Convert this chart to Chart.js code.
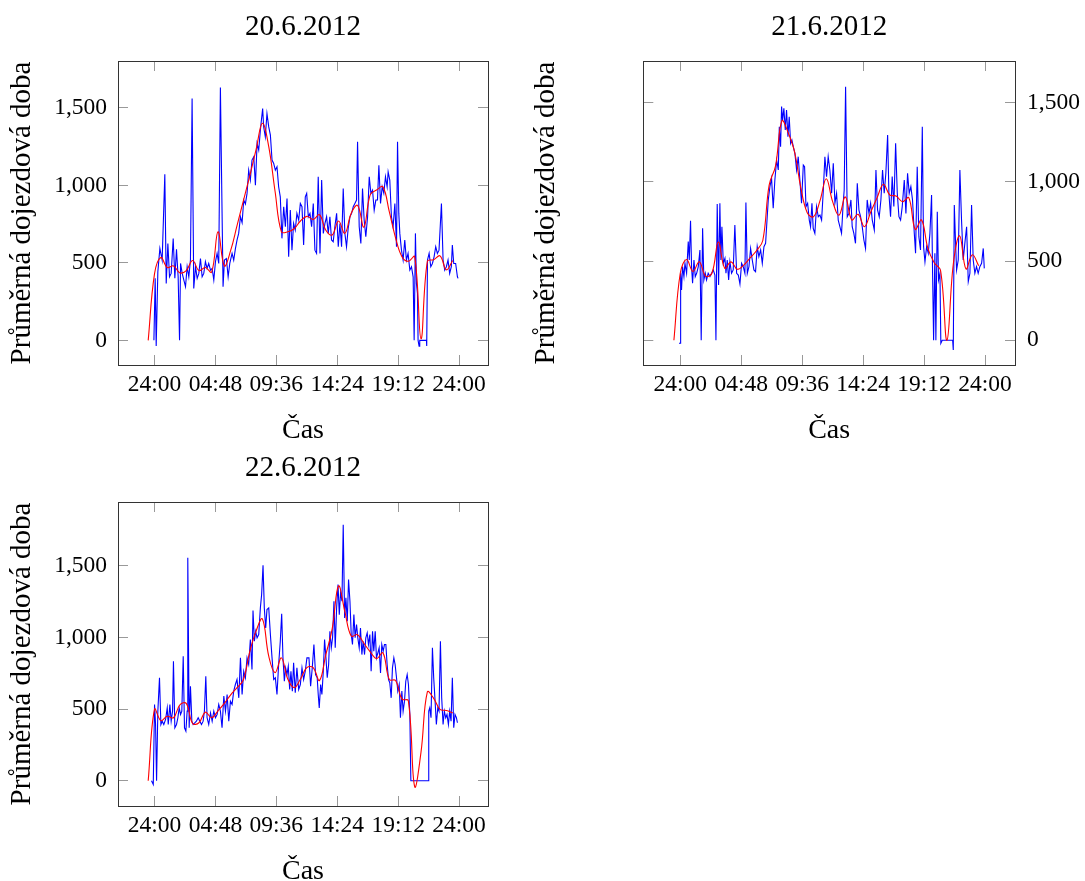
<!DOCTYPE html>
<html>
<head>
<meta charset="utf-8">
<script src="https://cdn.jsdelivr.net/npm/chart.js@4.4.0/dist/chart.umd.min.js"></script>
<style>
body { margin: 0; background: #fff; overflow: hidden; width: 1085px; height: 881px; position: relative; }
canvas { position: absolute; }
</style>
</head>
<body>
<canvas id="day1" width="540" height="450" style="left:0;top:0"></canvas>
<canvas id="day2" width="565" height="450" style="left:520px;top:0"></canvas>
<canvas id="day3" width="540" height="450" style="left:0;top:441px"></canvas>
<script>
const xTickValues = [0, 4.8, 9.6, 14.4, 19.2, 24];
const xTickLabels = ['24:00', '04:48', '09:36', '14:24', '19:12', '24:00'];
const yTickValues = [0, 500, 1000, 1500];

// smoothed (red) values every 0.5 h starting at -0.5 h
const redStart = -0.5;
const redStep = 0.5;

// 20.6.2012 - raw: time in hours, value
const t20 = [-0.05, 0.05, 0.13, 0.26, 0.42, 0.6, 0.81, 0.92, 1.05, 1.18,
    1.31, 1.47, 1.6, 1.73, 1.86, 1.97, 2.05, 2.18, 2.31, 2.44,
    2.57, 2.7, 2.83, 2.96, 3.09, 3.23, 3.36, 3.49, 3.62, 3.75,
    3.88, 4.01, 4.14, 4.27, 4.41, 4.54, 4.67, 4.8, 4.93, 5.06,
    5.19, 5.4, 5.51, 5.66, 5.8, 5.93, 6.11, 6.24, 6.37, 6.5,
    6.63, 6.77, 6.9, 7.03, 7.16, 7.29, 7.42, 7.55, 7.68, 7.82,
    7.95, 8.08, 8.21, 8.34, 8.52, 8.6, 8.73, 8.86, 9.0, 9.13,
    9.26, 9.39, 9.52, 9.65, 9.78, 9.91, 10.04, 10.18, 10.31, 10.44,
    10.57, 10.7, 10.83, 10.96, 11.09, 11.22, 11.36, 11.49, 11.62, 11.75,
    11.88, 11.99, 12.12, 12.25, 12.38, 12.51, 12.64, 12.77, 12.9, 13.04,
    13.17, 13.3, 13.43, 13.56, 13.69, 13.82, 13.95, 14.08, 14.21, 14.35,
    14.48, 14.61, 14.74, 14.87, 15.0, 15.13, 15.26, 15.4, 15.53, 15.66,
    15.79, 15.92, 16.0, 16.13, 16.26, 16.39, 16.52, 16.65, 16.79, 16.92,
    17.05, 17.18, 17.31, 17.44, 17.57, 17.68, 17.81, 17.94, 18.07, 18.2,
    18.33, 18.41, 18.54, 18.67, 18.8, 18.94, 19.07, 19.15, 19.25, 19.33,
    19.46, 19.59, 19.72, 19.85, 19.98, 20.12, 20.25, 20.38, 20.46, 20.56,
    20.64, 20.72, 20.77, 20.85, 20.9, 21.43, 21.45, 21.51, 21.64, 21.77,
    21.9, 22.03, 22.16, 22.29, 22.42, 22.61, 22.74, 22.87, 23.0, 23.13,
    23.26, 23.39, 23.47, 23.58, 23.73, 23.87, 23.92];
const v20 = [0, 400, -37, 443, 593, 518, 1072, 367, 625, 410,
    432, 657, 400, 587, 410, 0, 496, 432, 389, 346,
    475, 410, 518, 1560, 335, 475, 400, 432, 528, 410,
    432, 507, 464, 496, 453, 464, 389, 507, 561, 496,
    1631, 346, 518, 528, 410, 496, 561, 518, 590, 647,
    690, 797, 760, 905, 880, 948, 1098, 1034, 1163, 1184,
    1001, 1270, 1227, 1356, 1496, 1377, 1313, 1463, 1377, 1324,
    1163, 1141, 1098, 1120, 991, 926, 658, 862, 733, 915,
    539, 840, 582, 754, 711, 819, 776, 883, 862, 615,
    926, 948, 797, 819, 733, 883, 582, 561, 1055, 561,
    1034, 690, 754, 797, 690, 797, 647, 636, 733, 819,
    604, 754, 604, 980, 690, 604, 722, 797, 819, 862,
    883, 905, 1281, 733, 625, 980, 776, 668, 797, 1055,
    948, 969, 840, 905, 905, 1130, 883, 991, 948, 1055,
    991, 1087, 1034, 797, 733, 883, 604, 1281, 819, 690,
    582, 518, 647, 518, 561, 453, 475, 410, 0, 690,
    367, 303, 0, -37, 0, 0, -37, 518, 561, 475,
    496, 539, 604, 561, 582, 883, 518, 453, 475, 518,
    432, 475, 615, 496, 496, 410, 400];
const red20 = [0, 430, 535, 470, 480, 435, 450, 515, 450, 470,
    440, 700, 480, 580, 740, 900, 1060, 1230, 1400, 1250,
    960, 700, 700, 720, 770, 800, 780, 810, 710, 680,
    770, 690, 820, 870, 730, 940, 970, 990, 830, 660,
    540, 510, 540, 10, 510, 520, 545, 455, 515];

// 21.6.2012
const t21 = [-0.1, 0, 0.03, 0.1, 0.18, 0.29, 0.37, 0.5, 0.63, 0.71,
    0.81, 0.89, 0.97, 1.08, 1.18, 1.29, 1.42, 1.55, 1.65, 1.76,
    1.86, 1.97, 2.07, 2.2, 2.34, 2.47, 2.6, 2.73, 2.81, 2.91,
    3.02, 3.12, 3.2, 3.28, 3.39, 3.52, 3.6, 3.7, 3.81, 3.91,
    4.04, 4.17, 4.3, 4.44, 4.57, 4.7, 4.83, 4.96, 5.09, 5.17,
    5.28, 5.41, 5.54, 5.67, 5.8, 5.93, 6.06, 6.19, 6.33, 6.46,
    6.59, 6.72, 6.8, 6.93, 7.06, 7.19, 7.32, 7.45, 7.59, 7.72,
    7.8, 7.9, 7.98, 8.06, 8.16, 8.27, 8.37, 8.48, 8.58, 8.69,
    8.79, 8.9, 9.03, 9.16, 9.29, 9.42, 9.55, 9.69, 9.79, 9.9,
    10.03, 10.16, 10.26, 10.37, 10.47, 10.6, 10.73, 10.87, 11.0, 11.13,
    11.26, 11.39, 11.52, 11.65, 11.78, 11.92, 12.05, 12.18, 12.31, 12.44,
    12.57, 12.7, 12.83, 12.91, 13.02, 13.15, 13.28, 13.44, 13.54, 13.67,
    13.8, 13.94, 14.07, 14.2, 14.33, 14.46, 14.59, 14.72, 14.86, 14.99,
    15.12, 15.28, 15.41, 15.54, 15.67, 15.8, 15.93, 16.06, 16.19, 16.33,
    16.43, 16.56, 16.69, 16.82, 16.96, 17.09, 17.22, 17.35, 17.48, 17.64,
    17.77, 17.9, 18.03, 18.16, 18.29, 18.43, 18.53, 18.66, 18.79, 18.92,
    19.06, 19.16, 19.27, 19.4, 19.53, 19.66, 19.79, 19.87, 19.95, 20.05,
    20.13, 20.24, 20.34, 20.45, 20.52, 20.63, 21.45, 21.5, 21.58, 21.69,
    21.76, 21.89, 22.02, 22.15, 22.28, 22.41, 22.55, 22.68, 22.81, 22.94,
    23.07, 23.2, 23.33, 23.46, 23.59, 23.73, 23.86, 23.94];
const v21 = [-19, -19, 423, 318, 465, 402, 486, 423, 623, 507,
    755, 465, 360, 507, 402, 423, 465, 570, 0, 707,
    381, 423, 381, 423, 402, 423, 444, 412, 0, 860,
    349, 865, 507, 717, 486, 517, 423, 507, 381, 496,
    423, 444, 728, 423, 412, 355, 486, 465, 423, 869,
    423, 465, 580, 507, 444, 433, 591, 528, 570, 486,
    591, 612, 717, 886, 970, 1022, 833, 1012, 1138, 1075,
    1348, 1222, 1475, 1390, 1464, 1327, 1453, 1285, 1411, 1243,
    1264, 1222, 1180, 1075, 1159, 1012, 865, 1106, 1096, 843,
    865, 759, 717, 865, 707, 675, 843, 780, 791, 759,
    938, 1159, 1033, 1159, 1075, 928, 1117, 865, 928, 759,
    717, 675, 865, 949, 1601, 780, 801, 886, 717, 675,
    612, 991, 822, 780, 717, 633, 580, 886, 801, 865,
    759, 696, 1075, 822, 780, 886, 1075, 928, 1054, 1296,
    928, 780, 1033, 844, 1243, 928, 780, 759, 844, 1012,
    801, 1054, 928, 970, 886, 675, 549, 1096, 654, 570,
    1348, 591, 496, 591, 549, 675, 917, 423, 0, 549,
    0, 812, 381, 423, -19, 0, 0, -61, 854, 591,
    444, 507, 1075, 759, 507, 612, 717, 370, 423, 854,
    507, 423, 465, 423, 465, 486, 580, 454];
const red21 = [0, 423, 510, 435, 496, 405, 425, 620, 455, 495,
    448, 475, 520, 565, 630, 980, 1100, 1385, 1310, 1190,
    960, 805, 780, 880, 1020, 875, 790, 905, 760, 795,
    717, 810, 900, 985, 917, 911, 875, 900, 700, 760,
    580, 490, 440, 0, 480, 660, 450, 540, 470];

// 22.6.2012
const t22 = [-0.24, -0.1, 0, 0.08, 0.16, 0.26, 0.39, 0.5, 0.6, 0.73,
    0.87, 1.0, 1.08, 1.21, 1.31, 1.42, 1.49, 1.6, 1.73, 1.84,
    1.94, 2.05, 2.15, 2.26, 2.36, 2.47, 2.57, 2.62, 2.73, 2.83,
    2.94, 3.04, 3.17, 3.3, 3.44, 3.57, 3.7, 3.83, 3.93, 4.04,
    4.14, 4.27, 4.41, 4.54, 4.67, 4.8, 4.93, 5.06, 5.19, 5.32,
    5.46, 5.59, 5.72, 5.85, 5.98, 6.11, 6.24, 6.37, 6.5, 6.64,
    6.77, 6.9, 7.03, 7.16, 7.29, 7.42, 7.55, 7.68, 7.76, 7.87,
    7.97, 8.08, 8.21, 8.34, 8.44, 8.55, 8.65, 8.76, 8.86, 9.0,
    9.13, 9.26, 9.39, 9.52, 9.65, 9.78, 9.91, 10.02, 10.12, 10.23,
    10.33, 10.44, 10.54, 10.65, 10.75, 10.86, 10.96, 11.09, 11.22, 11.36,
    11.49, 11.62, 11.75, 11.88, 12.01, 12.17, 12.3, 12.43, 12.56, 12.69,
    12.82, 12.9, 12.98, 13.09, 13.19, 13.3, 13.4, 13.51, 13.61, 13.72,
    13.82, 13.93, 14.03, 14.14, 14.24, 14.35, 14.46, 14.56, 14.66, 14.77,
    14.87, 14.98, 15.08, 15.19, 15.29, 15.4, 15.5, 15.6, 15.71, 15.81,
    15.92, 16.02, 16.13, 16.23, 16.34, 16.44, 16.55, 16.65, 16.76, 16.86,
    16.97, 17.07, 17.18, 17.28, 17.39, 17.49, 17.6, 17.7, 17.81, 17.91,
    18.02, 18.12, 18.23, 18.33, 18.44, 18.54, 18.65, 18.75, 18.86, 18.96,
    19.07, 19.17, 19.28, 19.38, 19.49, 19.59, 19.7, 19.8, 19.91, 20.01,
    20.12, 20.2, 21.56, 21.61, 21.69, 21.79, 21.9, 22.0, 22.11, 22.21,
    22.32, 22.42, 22.53, 22.63, 22.74, 22.84, 22.95, 23.05, 23.16, 23.26,
    23.37, 23.47, 23.58, 23.68, 23.79, 23.87];
const v22 = [0, -26, 533, 393, 0, 486, 719, 393, 416, 393,
    428, 509, 393, 533, 416, 486, 835, 370, 393, 440,
    509, 463, 486, 870, 370, 347, 486, 1556, 370, 660,
    416, 393, 405, 416, 440, 416, 393, 416, 486, 730,
    440, 393, 474, 416, 486, 440, 463, 533, 486, 370,
    591, 486, 602, 416, 556, 533, 626, 672, 707, 579,
    858, 602, 765, 719, 858, 812, 986, 777, 1188, 974,
    1044, 998, 1021, 1207, 1300, 1505, 1207, 1067, 1195, 1207,
    1021, 858, 707, 719, 602, 812, 974, 1165, 858, 695,
    788, 742, 800, 637, 765, 626, 823, 614, 788, 637,
    672, 788, 707, 765, 858, 858, 660, 788, 951, 742,
    719, 602, 509, 672, 602, 765, 986, 858, 719, 812,
    1044, 928, 998, 1253, 928, 1207, 1370, 1160, 1312, 1253,
    1788, 1137, 1277, 1114, 1405, 1253, 1021, 951, 1160, 998,
    1091, 998, 928, 1067, 881, 974, 881, 998, 1033, 951,
    1021, 765, 1044, 905, 1044, 858, 893, 928, 753, 951,
    905, 951, 951, 812, 707, 684, 579, 788, 858, 812,
    719, 626, 672, 440, 626, 486, 556, 695, 742, 672,
    463, 0, 0, 486, 509, 440, 928, 719, 556, 393,
    509, 486, 974, 579, 393, 486, 440, 463, 393, 486,
    416, 719, 370, 463, 440, 405];
const red22 = [0, 500, 420, 450, 440, 530, 540, 400, 405, 479,
    440, 488, 540, 600, 650, 705, 900, 1045, 1130, 870,
    755, 858, 710, 650, 710, 790, 790, 700, 880, 1060,
    1360, 1180, 1010, 1020, 960, 900, 853, 893, 707, 700,
    570, 560, -40, 200, 620, 575, 498, 491, 474];

Chart.defaults.font.family = "'Liberation Serif', 'Times New Roman', serif";
Chart.defaults.color = '#000';

const pairs = (ts, vs) => ts.map((t, i) => ({ x: t, y: vs[i] }));
const steps = (values, start, step) => values.map((v, i) => ({ x: start + i * step, y: v }));

function makeChart(id, title, raw, smooth, o) {
    const tickFont = { size: 23.5 };
    const labelFont = { size: 29 };
    const grid = { drawOnChartArea: false, tickLength: -10, color: '#999', lineWidth: 1 };
    const border = { color: '#333', width: 1 };
    const setX = axis => { axis.ticks = xTickValues.map(value => ({ value })); };
    const setY = axis => { axis.ticks = yTickValues.map(value => ({ value })); };
    const yLabel = { display: true, text: 'Průměrná dojezdová doba', font: labelFont, padding: { top: o.yTitlePad, bottom: 0 } };

    const scales = {
        x: {
            type: 'linear', axis: 'x', position: 'bottom', min: o.xMin, max: o.xMax,
            afterBuildTicks: setX, afterFit: a => { a.height = 85; },
            grid, border,
            ticks: { font: tickFont, padding: 16, maxRotation: 0, autoSkip: false, callback: (v, i) => xTickLabels[i] },
            title: { display: true, text: 'Čas', font: { size: 28 }, padding: { top: 0, bottom: 2.7 } }
        },
        xTop: {
            type: 'linear', axis: 'x', position: 'top', min: o.xMin, max: o.xMax,
            afterBuildTicks: setX, afterFit: a => { a.height = 0; },
            grid, border, ticks: { display: false }
        },
        y: {
            type: 'linear', axis: 'y', position: o.ticksRight ? 'right' : 'left', min: o.yMin, max: o.yMax,
            afterBuildTicks: setY, afterFit: a => { a.width = o.ticksRight ? o.rightW : o.leftW; },
            grid, border,
            ticks: { font: tickFont, padding: o.ticksRight ? 22 : 21, callback: v => v.toLocaleString('en-US') },
            title: o.ticksRight ? { display: false } : yLabel
        },
        yMirror: {
            type: 'linear', axis: 'y', position: o.ticksRight ? 'left' : 'right', min: o.yMin, max: o.yMax,
            afterBuildTicks: setY, afterFit: a => { a.width = o.ticksRight ? o.leftW : 0; },
            grid, border, ticks: { display: false },
            title: o.ticksRight ? yLabel : { display: false }
        }
    };

    return new Chart(document.getElementById(id), {
        type: 'line',
        data: {
            datasets: [
                { data: smooth, borderColor: '#ff0000', borderWidth: 1.1, pointRadius: 0, tension: 0.4 },
                { data: raw, borderColor: '#0000ff', borderWidth: 1.1, pointRadius: 0, tension: 0 }
            ]
        },
        options: {
            responsive: false,
            animation: false,
            layout: { padding: { left: 0, top: 0, right: o.padRight, bottom: 0 } },
            plugins: {
                legend: { display: false },
                tooltip: { enabled: false },
                title: {
                    display: true, fullSize: false, text: title, color: '#000',
                    font: { size: 29, weight: 'normal' }, padding: { top: 9.6, bottom: 16.6 }
                }
            },
            scales
        }
    });
}

makeChart('day1', '20.6.2012', pairs(t20, v20), steps(red20, redStart, redStep),
    { xMin: -2.88, xMax: 26.28, yMin: -159, yMax: 1802, leftW: 118, padRight: 52, yTitlePad: 5.4 });
makeChart('day2', '21.6.2012', pairs(t21, v21), steps(red21, redStart, redStep),
    { xMin: -2.91, xMax: 26.36, yMin: -156, yMax: 1763, ticksRight: true, leftW: 123.3, rightW: 70, padRight: 0, yTitlePad: 9 });
makeChart('day3', '22.6.2012', pairs(t22, v22), steps(red22, redStart, redStep),
    { xMin: -2.88, xMax: 26.28, yMin: -176, yMax: 1946, leftW: 118, padRight: 52, yTitlePad: 5.4 });
</script>
</body>
</html>
